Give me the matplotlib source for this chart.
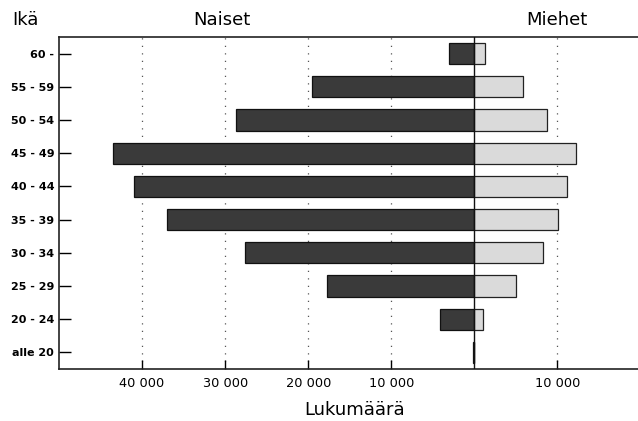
import matplotlib
matplotlib.use("Agg")
import matplotlib.pyplot as plt

ages = ['alle 20', '20 - 24', '25 - 29', '30 - 34', '35 - 39',
        '40 - 44', '45 - 49', '50 - 54', '55 - 59', '60 -']
women = [200, 4100, 17700, 27600, 37000, 41000, 43500, 28700, 19600, 3100]
men = [0, 1100, 5000, 8300, 10100, 11100, 12200, 8700, 5900, 1300]
xticks = [-40000, -30000, -20000, -10000, 10000]
xticklabels = ['40 000', '30 000', '20 000', '10 000', '10 000']

plt.rcParams['font.family'] = ['DejaVu Sans']

fig = plt.figure(figsize=(6.38, 4.21), dpi=100)
ax = fig.add_axes([59/638, 1-369/421, 1-59/638, (369-37)/421])

y = list(range(len(ages)))
ax.barh(y, [-w for w in women], height=0.64, color='#3a3a3a',
        edgecolor='#111111', linewidth=0.9, zorder=3)
ax.barh(y, men, height=0.64, color='#dadada',
        edgecolor='#222222', linewidth=0.9, zorder=3)

ax.axvline(0, color='#111111', linewidth=1.0, zorder=4)

ax.set_xlim(-50000, 19700)
ax.set_ylim(-0.5, 9.5)

ax.set_xticks(xticks)
ax.set_xticklabels(xticklabels, fontsize=9.3)
ax.set_yticks(y)
ax.set_yticklabels(ages, fontsize=8, fontweight='bold')

ax.tick_params(axis='y', direction='in', length=8.6, width=1.0, pad=3.5)
ax.tick_params(axis='x', direction='in', length=6.5, width=1.0, pad=5.5)

ax.grid(axis='x', linestyle=(0, (1, 5)), color='#555555', linewidth=0.9, zorder=0)

for s in ['left', 'bottom', 'top']:
    ax.spines[s].set_linewidth(1.2)
    ax.spines[s].set_color('#222222')
ax.spines['right'].set_visible(False)

def px(xp, yp):
    return xp/638, 1-yp/421

fig.text(*px(25, 20), 'Ikä', fontsize=13, ha='center', va='center')
fig.text(*px(222, 20), 'Naiset', fontsize=13, ha='center', va='center')
fig.text(*px(557, 20), 'Miehet', fontsize=13, ha='center', va='center')
fig.text(*px(355, 410), 'Lukumäärä', fontsize=13, ha='center', va='center')

fig.savefig('out.png', dpi=100)
